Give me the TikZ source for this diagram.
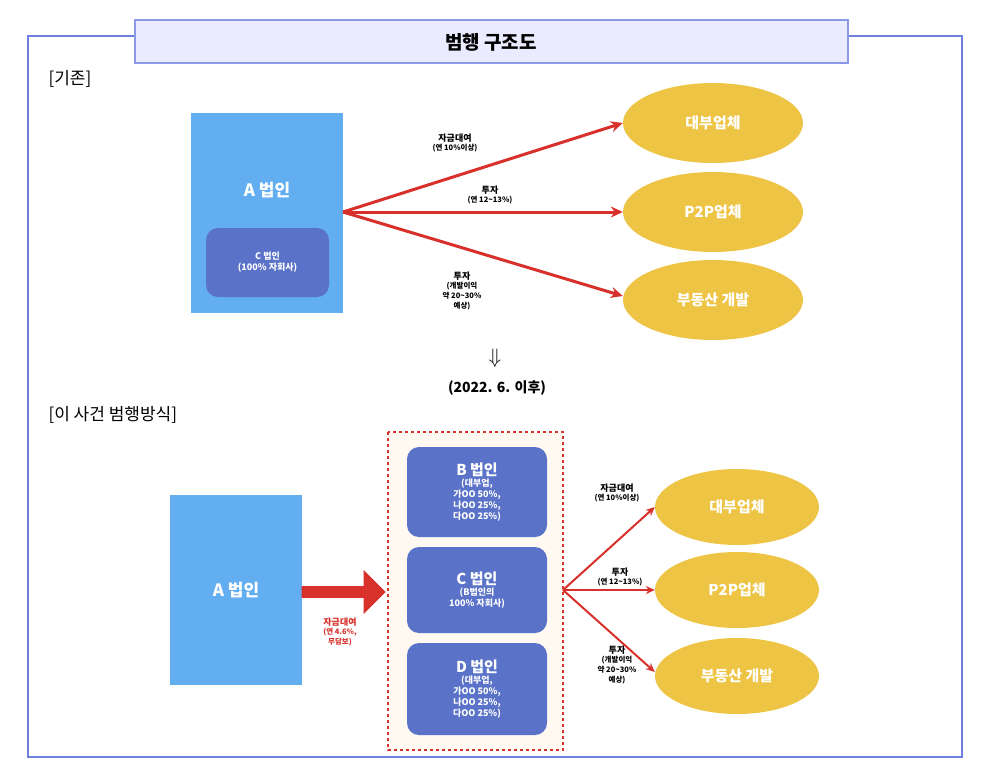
\documentclass[tikz,border=0pt]{standalone}
\usepackage{fontspec}
\setmainfont{Noto Sans CJK KR}
\usepackage{tikz}
\usetikzlibrary{shapes.arrows,shapes.geometric,arrows.meta}
\definecolor{frameblue}{HTML}{6F7FE0}
\definecolor{boxblue}{HTML}{62AEF0}
\definecolor{subblue}{HTML}{5A72C8}
\definecolor{gold}{HTML}{EEC445}
\definecolor{arrred}{HTML}{D8302A}
\newcommand\smtxt{\fontsize{7.5}{9}\selectfont}
\tikzset{
  corp/.style={fill=boxblue,text=white,font=\bfseries\fontsize{17}{20}\selectfont},
  sub/.style={fill=subblue,rounded corners=12pt,text=white,align=center,font=\bfseries\fontsize{9}{11}\selectfont},
  biz/.style={ellipse,fill=gold,text=white,font=\bfseries\fontsize{15}{18}\selectfont},
  flow/.style={arrred,line width=3pt,-{Stealth[length=12pt,width=11pt]}},
  flowthin/.style={arrred,line width=2pt,-{Stealth[length=9pt,width=8pt]}},
  lbl/.style={align=center,font=\bfseries\fontsize{9}{10}\selectfont},
}
\begin{document}
\begin{tikzpicture}[x=1pt,y=-1pt]
\useasboundingbox (0,0) rectangle (990,772);
% frame and title
\draw[frameblue,line width=2pt](28,36) rectangle (962,757);
\draw[fill=blue!8,draw=frameblue!80,line width=1.5pt](135,20) rectangle (848,63);
\node (title) at (491,42)[font=\bfseries\fontsize{19}{22}\selectfont]{범행 구조도};
\node (before) at (45,79)[anchor=west,font=\fontsize{17}{20}\selectfont]{[기존]};
% before
\fill[boxblue](191,113) rectangle (343,313);
\node (a1) at (267,190)[text=white,font=\bfseries\fontsize{17}{20}\selectfont]{A 법인};
\node (c1)[sub,minimum width=123pt,minimum height=69pt] at (267.5,262.5){C 법인\\(100\% 자회사)};
\coordinate (src1) at (343,212);
\node (e1)[biz,minimum width=180pt,minimum height=80pt] at (713,123){대부업체};
\node (e2)[biz,minimum width=180pt,minimum height=80pt] at (713,212){P2P업체};
\node (e3)[biz,minimum width=180pt,minimum height=80pt] at (713,300){부동산 개발};
\draw[flow](src1)--(e1.west|-0,123);
\draw[flow](src1)--(e2);
\draw[flow](src1)--(e3.west|-0,296);
\node (l1) at (455,143)[lbl]{자금대여\\[-1pt]\smtxt(연 10\%이상)};
\node (l2) at (490,195)[lbl]{투자\\[-1pt]\smtxt(연 12\textasciitilde13\%)};
\node (l3) at (462,291)[lbl]{투자\\[-1pt]\smtxt(개발이익\\\smtxt 약 20\textasciitilde30\%\\\smtxt 예상)};
\node (down) at (495,358)[font=\fontsize{20}{22}\selectfont]{$\Downarrow$};
\node (date) at (497,388)[font=\bfseries\fontsize{14}{16}\selectfont]{(2022. 6. 이후)};
\node (after) at (45,415)[anchor=west,font=\fontsize{17}{20}\selectfont]{[이 사건 범행방식]};
% after
\node (a2)[corp,minimum width=132pt,minimum height=190pt] at (236,590){A 법인};
\draw[fill=orange!5,draw=arrred,dashed,line width=1.2pt](388,432) rectangle (563,750);
\node (b)[sub,minimum width=140pt,minimum height=90pt] at (477,492){{\fontsize{15}{18}\selectfont B 법인}\\(대부업,\\가OO 50\%,\\나OO 25\%,\\다OO 25\%)};
\node (c2)[sub,minimum width=140pt,minimum height=86pt] at (477,590){{\fontsize{15}{18}\selectfont C 법인}\\(B법인의\\100\% 자회사)};
\node (d)[sub,minimum width=140pt,minimum height=92pt] at (477,689){{\fontsize{15}{18}\selectfont D 법인}\\(대부업,\\가OO 50\%,\\나OO 25\%,\\다OO 25\%)};
\coordinate (dash) at (386,592);
\node (fat)[single arrow,fill=arrred,minimum height=84pt,minimum width=44pt,single arrow head extend=6pt,inner sep=2pt,anchor=tip] at (dash){};
\node (lfat) at (340,632)[lbl,text=arrred]{자금대여\\[-1pt]\smtxt(연 4.6\%,\\\smtxt 무담보)};
\coordinate (src2) at (563,590);
\node (f1)[biz,minimum width=164pt,minimum height=76pt] at (737,507){대부업체};
\node (f2)[biz,minimum width=164pt,minimum height=76pt] at (737,590){P2P업체};
\node (f3)[biz,minimum width=164pt,minimum height=76pt] at (737,676){부동산 개발};
\draw[flowthin](src2)--(f1.west|-0,507);
\draw[flowthin](src2)--(f2);
\draw[flowthin](src2)--(f3.west|-0,672);
\node (m1) at (617,493)[lbl]{자금대여\\[-1pt]\smtxt(연 10\%이상)};
\node (m2) at (620,577)[lbl]{투자\\[-1pt]\smtxt(연 12\textasciitilde13\%)};
\node (m3) at (617,665)[lbl]{투자\\[-1pt]\smtxt(개발이익\\\smtxt 약 20\textasciitilde30\%\\\smtxt 예상)};
\end{tikzpicture}
\end{document}
